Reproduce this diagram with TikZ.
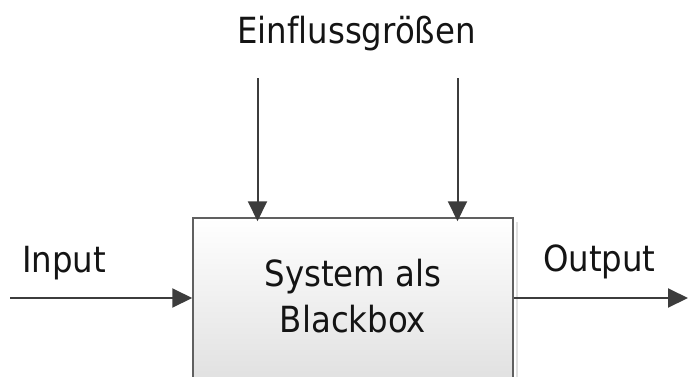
\documentclass[tikz,border=0pt]{standalone}
\usepackage{fontspec}
\setmainfont[Ligatures=NoCommon]{DejaVu Sans Condensed}
\usetikzlibrary{arrows.meta,calc}
\definecolor{linec}{HTML}{3C3C3C}
\definecolor{boxc}{HTML}{606060}
\definecolor{txtc}{HTML}{141414}
\tikzset{
  conn/.style={draw=linec, line width=2pt, -{Triangle[length=20pt,width=19pt]}},
  lbl/.style={text=txtc, font=\fontsize{36}{46}\selectfont, inner sep=0pt},
  blackbox/.style={draw=boxc, line width=1.5pt, top color=white, bottom color=black!12,
    minimum width=320pt, minimum height=164pt, inner sep=0pt}
}
\begin{document}
\begin{tikzpicture}[x=1pt,y=1pt]
\useasboundingbox (0,0) rectangle (689,-376);
\begin{scope}
\clip (0,0) rectangle (689,-376);
\fill[black!12] (516,-222) rectangle (518,-380);
\node[blackbox] (box) at (353,-300) {};
\end{scope}
\node[lbl, anchor=base, align=center] (sys) at (353,-332) {System als\\Blackbox};
\node[lbl, anchor=base] (einfl) at (356.5,-43) {Einflussgrößen};
\node[lbl, anchor=base west] (input) at (22,-272) {Input};
\node[lbl, anchor=base west] (output) at (543,-271) {Output};
\coordinate (top1) at (257.5,-78);
\coordinate (top2) at (457.5,-78);
\coordinate (in1) at (10,-298);
\coordinate (out1) at (688,-298);
\draw[conn] (top1) -- ($(top1 |- box.north)+(0,-4)$);
\draw[conn] (top2) -- ($(top2 |- box.north)+(0,-4)$);
\draw[conn] (in1) -- (in1 -| box.west);
\draw[conn] (out1 -| box.east) -- (out1);
\end{tikzpicture}
\end{document}
